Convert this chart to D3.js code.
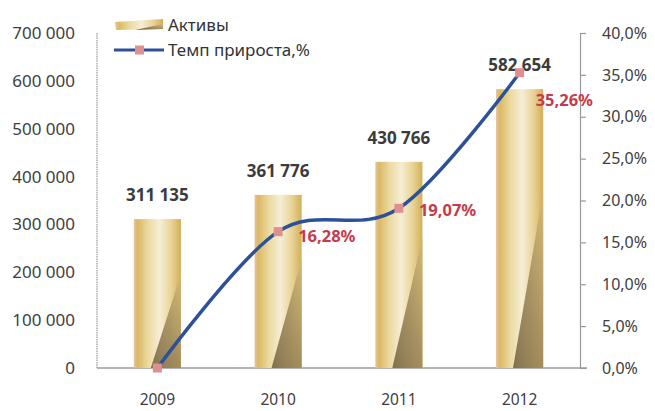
<!DOCTYPE html>
<html>
<head>
<meta charset="utf-8">
<script src="https://cdn.jsdelivr.net/npm/d3@7"></script>
<style>
  body { margin: 0; background: #fff; }
  text { font-family: "Noto Sans", "Open Sans", sans-serif; }
</style>
</head>
<body>
<div id="chart"></div>
<script>
// chart data
var years = ["2009", "2010", "2011", "2012"];
var assets = [311135, 361776, 430766, 582654];
var growth = [0, 16.28, 19.07, 35.26];
var leftTicks = [0, 100000, 200000, 300000, 400000, 500000, 600000, 700000];
var rightTicks = [0, 5, 10, 15, 20, 25, 30, 35, 40];
var legendLabels = ["Активы", "Темп прироста,%"];

var width = 655,
	height = 411,
	plotLeft = 97,
	plotRight = 580,
	plotTop = 33,
	plotBottom = 368;

var svg = d3.select("#chart").append("svg")
	.attr("width", width)
	.attr("height", height);

var defs = svg.append("defs");

// gold column fill
var gold = defs.append("linearGradient").attr("id", "gold")
	.attr("x1", "0").attr("x2", "1").attr("y1", "0").attr("y2", "0");
[[0, "#e8c2a0"], [0.08, "#dab963"], [0.3, "#ebd9a0"], [0.55, "#f6eed6"], [0.8, "#e8d294"], [1, "#d3af58"]]
	.forEach(function(s){
		gold.append("stop").attr("offset", s[0]).attr("stop-color", s[1]);
	});

// brown fold in the lower right of each column
var fold = defs.append("linearGradient").attr("id", "fold")
	.attr("x1", "0").attr("x2", "1").attr("y1", "1").attr("y2", "0");
fold.append("stop").attr("offset", 0).attr("stop-color", "#76643f");
fold.append("stop").attr("offset", 0.5).attr("stop-color", "#a08a5c");
fold.append("stop").attr("offset", 1).attr("stop-color", "#d4bb78");

var x = d3.scaleBand()
	.domain(years)
	.range([plotLeft, plotRight])
	.paddingInner(0.61)
	.paddingOuter(0.305);

var yL = d3.scaleLinear().domain([0, 700000]).range([plotBottom, plotTop]);
var yR = d3.scaleLinear().domain([0, 40]).range([plotBottom, plotTop]);

var fmtNum = function(v){ return d3.format(",")(v).replace(/,/g, " "); };
var fmtPct = function(v, n){ return d3.format("." + n + "f")(v).replace(".", ",") + "%"; };
var cx = function(i){ return x(years[i]) + x.bandwidth() / 2; };

// axes
svg.append("line")
	.attr("x1", plotLeft).attr("x2", plotLeft)
	.attr("y1", yL(700000)).attr("y2", plotBottom)
	.attr("stroke", "#9a9a9a").attr("stroke-width", 1.2)
	.attr("stroke-dasharray", "1.5,0.8");

svg.append("g")
	.selectAll("text")
	.data(leftTicks).enter()
	.append("text")
		.attr("x", 75)
		.attr("y", function(d){ return yL(d); })
		.attr("dy", "0.35em")
		.attr("text-anchor", "end")
		.attr("font-size", 17)
		.attr("fill", "#404040")
		.text(fmtNum);

var axR = svg.append("g")
	.attr("transform", "translate(" + plotRight + ",0)")
	.call(d3.axisRight(yR).tickValues(rightTicks).tickSize(6).tickPadding(16)
		.tickFormat(function(d){ return fmtPct(d, 1); }));
axR.select(".domain").attr("stroke", "#9a9a9a").attr("stroke-width", 1.2);
axR.selectAll(".tick line").attr("stroke", "#9a9a9a").attr("stroke-width", 1.2);
axR.selectAll(".tick text")
	.attr("font-size", 16)
	.attr("fill", "#404040")
	.attr("font-family", "Noto Sans, Open Sans, sans-serif");

svg.append("line")
	.attr("x1", plotLeft).attr("x2", plotRight + 7)
	.attr("y1", plotBottom).attr("y2", plotBottom)
	.attr("stroke", "#9a9a9a").attr("stroke-width", 1.5);

svg.append("g")
	.selectAll("text")
	.data(years).enter()
	.append("text")
		.attr("x", function(d, i){ return cx(i); })
		.attr("y", 400)
		.attr("dy", "0.35em")
		.attr("text-anchor", "middle")
		.attr("font-size", 15.5)
		.attr("fill", "#404040")
		.text(function(d){ return d; });

// columns
var bars = svg.append("g").selectAll("g")
	.data(years).enter()
	.append("g");

bars.append("rect")
	.attr("x", function(d){ return x(d); })
	.attr("y", function(d, i){ return yL(assets[i]); })
	.attr("width", x.bandwidth())
	.attr("height", function(d, i){ return plotBottom - yL(assets[i]); })
	.attr("fill", "url(#gold)");

bars.append("path")
	.attr("d", function(d, i){
		var x1 = x(d) + x.bandwidth(),
			h = plotBottom - yL(assets[i]),
			y1 = plotBottom - h * 0.63,
			x0 = x1 - x.bandwidth() * 0.64;
		return "M" + x1 + "," + y1 + "L" + x1 + "," + plotBottom + "L" + x0 + "," + plotBottom + "Z";
	})
	.attr("fill", "url(#fold)")
	.attr("opacity", 0.9);

bars.append("text")
	.attr("x", function(d, i){ return cx(i); })
	.attr("y", function(d, i){ return yL(assets[i]) - 18; })
	.attr("text-anchor", "middle")
	.attr("font-size", 17)
	.attr("font-weight", "bold")
	.attr("fill", "#3b3b3b")
	.text(function(d, i){ return fmtNum(assets[i]); });

// growth line
var line = d3.line()
	.x(function(d, i){ return cx(i); })
	.y(function(d){ return yR(d); })
	.curve(d3.curveCardinal.tension(0));

svg.append("path")
	.datum(growth)
	.attr("d", line)
	.attr("fill", "none")
	.attr("stroke", "#2d5198")
	.attr("stroke-width", 3.5)
	.attr("stroke-linecap", "round");

svg.append("g").selectAll("rect")
	.data(growth).enter()
	.append("rect")
		.attr("x", function(d, i){ return cx(i) - 4.5; })
		.attr("y", function(d){ return yR(d) - 4.5; })
		.attr("width", 9).attr("height", 9)
		.attr("fill", "#de8f92");

// percent labels (first point has none)
var pctOffset = [null, [20, 10], [20, 8], [16, 33]];
var pctData = growth.map(function(d, i){ return {v: d, i: i}; })
	.filter(function(d){ return pctOffset[d.i]; });
svg.append("g").selectAll("text")
	.data(pctData).enter()
	.append("text")
		.attr("x", function(d){ return cx(d.i) + pctOffset[d.i][0]; })
		.attr("y", function(d){ return yR(d.v) + pctOffset[d.i][1]; })
		.attr("font-size", 16.5)
		.attr("font-weight", "bold")
		.attr("fill", "#c63a4c")
		.text(function(d){ return fmtPct(d.v, 2); });

// legend
var leg = svg.append("g");
leg.append("path")
	.attr("d", "M115,22 L163,19 L163,29 L116,30 Z")
	.attr("fill", "url(#gold)");
leg.append("path")
	.attr("d", "M163,24 L163,29 L135,30 Z")
	.attr("fill", "url(#fold)");
leg.append("line")
	.attr("x1", 114).attr("x2", 164)
	.attr("y1", 50).attr("y2", 50)
	.attr("stroke", "#2d5198").attr("stroke-width", 3);
leg.append("rect")
	.attr("x", 135).attr("y", 45.5)
	.attr("width", 9).attr("height", 9)
	.attr("fill", "#de8f92");
leg.selectAll("text")
	.data(legendLabels).enter()
	.append("text")
		.attr("x", 168)
		.attr("y", function(d, i){ return 25 + i * 25; })
		.attr("dy", "0.35em")
		.attr("font-size", 17)
		.attr("fill", "#333")
		.text(function(d){ return d; });
</script>
</body>
</html>
